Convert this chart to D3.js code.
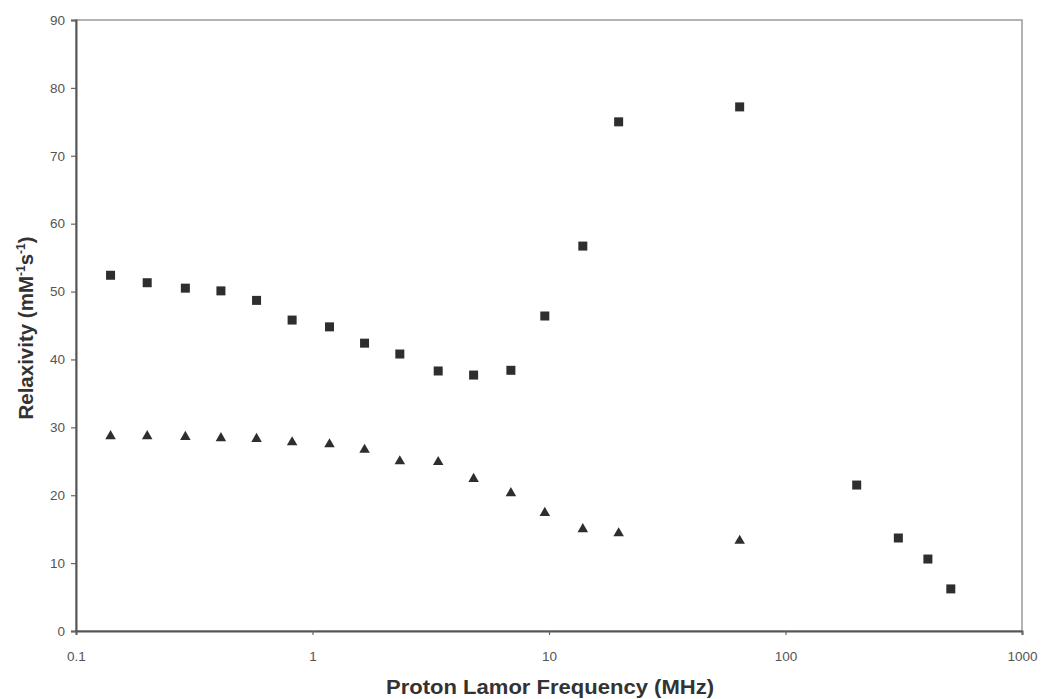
<!DOCTYPE html>
<html><head><meta charset="utf-8">
<script src="https://cdn.jsdelivr.net/npm/d3@7"></script>
<style>body{margin:0;background:#fff;} svg{display:block;}</style>
</head><body>
<svg id="chart" width="1045" height="699"></svg>
<script>
const freqs = [0.14, 0.2, 0.29, 0.41, 0.58, 0.82, 1.18, 1.66, 2.34, 3.4, 4.8, 6.9, 9.6, 13.9, 19.7, 64, 200, 300, 400, 500];
const squareVals = [52.4, 51.3, 50.5, 50.1, 48.7, 45.8, 44.8, 42.4, 40.8, 38.3, 37.7, 38.4, 46.4, 56.7, 75.0, 77.2, 21.5, 13.7, 10.6, 6.2];
const triFreqs = [0.14, 0.2, 0.29, 0.41, 0.58, 0.82, 1.18, 1.66, 2.34, 3.4, 4.8, 6.9, 9.6, 13.9, 19.7, 64];
const triVals = [28.7, 28.7, 28.6, 28.4, 28.3, 27.8, 27.5, 26.7, 25.0, 24.9, 22.4, 20.3, 17.4, 15.0, 14.4, 13.3];
const xTicks = [0.1, 1, 10, 100, 1000];
const yTicks = [0, 10, 20, 30, 40, 50, 60, 70, 80, 90];

const svg = d3.select("#chart");
const L = 76, R = 1022, T = 20, B = 631;
const x = d3.scaleLog().domain([0.1, 1000]).range([L, R]);
const y = d3.scaleLinear().domain([0, 90]).range([B, T]);

svg.append("rect").attr("x", L).attr("y", T).attr("width", R - L).attr("height", B - T)
  .attr("fill", "none").attr("stroke", "#9a9a9a").attr("stroke-width", 1.5);

const fmt = d => (d < 1 ? "0.1" : String(d));
const xAxis = svg.append("g").attr("transform", `translate(0,${B})`)
  .call(d3.axisBottom(x).tickValues(xTicks).tickFormat(fmt).tickSize(4).tickPadding(16));
const yAxis = svg.append("g").attr("transform", `translate(${L},0)`)
  .call(d3.axisLeft(y).tickValues(yTicks).tickSize(5).tickPadding(6));
[xAxis, yAxis].forEach(g => {
  g.select(".domain").attr("stroke", "#555").attr("stroke-width", 2);
  g.selectAll(".tick line").attr("stroke", "#666").attr("stroke-width", 1.2);
  g.selectAll(".tick text").attr("fill", "#555").attr("font-family", "Liberation Sans, Arial, sans-serif").attr("font-size", 13.5);
});

const sq = 9;
svg.append("g").selectAll("rect").data(freqs.map((f, i) => [f, squareVals[i]])).join("rect")
  .attr("x", d => x(d[0]) - sq / 2).attr("y", d => y(d[1]) - sq / 2)
  .attr("width", sq).attr("height", sq).attr("fill", "#2e2e2e");

const tri = d3.symbol().type(d3.symbolTriangle).size(48);
svg.append("g").selectAll("path").data(triFreqs.map((f, i) => [f, triVals[i]])).join("path")
  .attr("d", tri).attr("transform", d => `translate(${x(d[0])},${y(d[1])})`).attr("fill", "#2e2e2e");

svg.append("text").attr("x", 550).attr("y", 694).attr("text-anchor", "middle")
  .attr("font-family", "Liberation Sans, Arial, sans-serif").attr("font-weight", "bold")
  .attr("font-size", 20).attr("textLength", 328).attr("lengthAdjust", "spacingAndGlyphs")
  .attr("fill", "#333").text("Proton Lamor Frequency (MHz)");

const yt = svg.append("text").attr("transform", "translate(33,328) rotate(-90)").attr("text-anchor", "middle")
  .attr("font-family", "Liberation Sans, Arial, sans-serif").attr("font-weight", "bold")
  .attr("font-size", 20.5).attr("fill", "#333");
yt.append("tspan").text("Relaxivity (mM");
yt.append("tspan").attr("dy", -8).attr("font-size", 12).text("-1");
yt.append("tspan").attr("dy", 8).text("s");
yt.append("tspan").attr("dy", -8).attr("font-size", 12).text("-1");
yt.append("tspan").attr("dy", 8).text(")");
</script>
</body></html>
